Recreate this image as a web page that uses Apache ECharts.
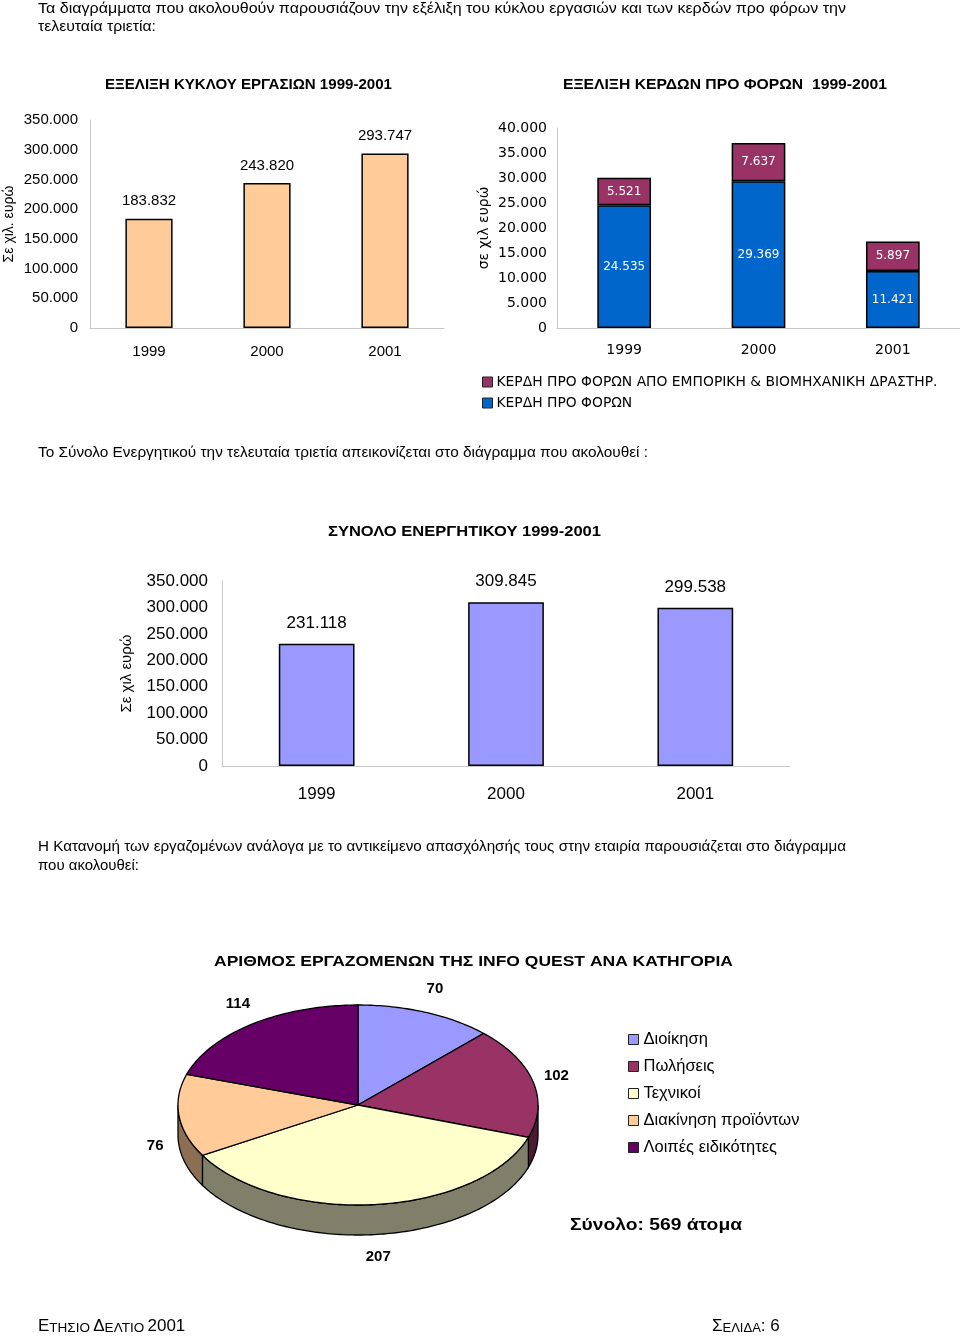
<!DOCTYPE html>
<html><head><meta charset="utf-8">
<script src="https://cdn.jsdelivr.net/npm/echarts@6.0.0/dist/echarts.min.js"></script>
<style>html,body{margin:0;padding:0;background:#fff}#c{width:960px;height:1336px}</style>
</head><body><div id="c"></div>
<script>
// ---------- data ----------
const years = ['1999', '2000', '2001'];
const turnover = [183832, 243820, 293747];
const profitBase = [24535, 29369, 11421];
const profitTrade = [5521, 7637, 5897];
const assets = [231118, 309845, 299538];
const staffNames = ['Διοίκηση', 'Πωλήσεις', 'Τεχνικοί', 'Διακίνηση προϊόντων', 'Λοιπές ειδικότητες'];
const staffValues = [70, 102, 207, 76, 114];
const profitNames = ['ΚΕΡΔΗ ΠΡΟ ΦΟΡΩΝ ΑΠΟ ΕΜΠΟΡΙΚΗ & ΒΙΟΜΗΧΑΝΙΚΗ ΔΡΑΣΤΗΡ.', 'ΚΕΡΔΗ ΠΡΟ ΦΟΡΩΝ'];

// ---------- styling ----------
const staffColors = ['#9999FF', '#993366', '#FFFFCC', '#FFCC99', '#660066'];
const staffWall = ['#5c5c99', '#4d1a33', '#80806a', '#8c6e52', '#330033'];
const SANS = '"Liberation Sans", Arial, sans-serif';
const DV = '"DejaVu Sans", Verdana, sans-serif';

const mctx = document.createElement('canvas').getContext('2d');
function tw(text, font) { mctx.font = font; return mctx.measureText(text).width; }
function fitText(text, x, y, w, size, weight, family) {
  const font = weight + ' ' + size + 'px ' + family;
  const s = w / tw(text, font);
  return { type: 'text', x: x, y: y, scaleX: s, silent: true,
    style: { text: text, font: font, fill: '#000', align: 'left', verticalAlign: 'middle' } };
}
function fmt(v) { return String(Math.round(v)).replace(/\B(?=(\d{3})+(?!\d))/g, '.'); }

// legend font size fitted for chart 2
const legFS = 14 * 441 / tw(profitNames[0], '14px ' + DV);

// ---------- pie geometry ----------
const total = staffValues.reduce((a, b) => a + b, 0);
const starts = []; (function () { let acc = 0; staffValues.forEach(v => { starts.push(acc / total * 360); acc += v; }); })();
const PIE = { cx: 358, cy: 1105, rx: 180, ry: 100, depth: 30 };
function ept(deg, dy, rx, ry) { const r = deg * Math.PI / 180; return [PIE.cx + rx * Math.sin(r), PIE.cy - ry * Math.cos(r) + dy]; }
function arc(a, b, dy) {
  const pts = []; const n = Math.max(2, Math.ceil(Math.abs(b - a)));
  for (let i = 0; i <= n; i++) pts.push(ept(a + (b - a) * i / n, dy, PIE.rx, PIE.ry));
  return pts;
}
const pieSeries = staffNames.map((name, i) => ({
  type: 'custom', name: name, coordinateSystem: 'none', silent: true,
  itemStyle: { color: staffColors[i], borderColor: '#000', borderWidth: 1 },
  data: [staffValues[i]],
  renderItem: function (params, api) {
    const v = api.value(0);
    const a = starts[i], b = a + v / total * 360;
    const children = [];
    const s = Math.max(a, 90), e = Math.min(b, 270);
    if (s < e) {
      children.push({ type: 'polygon', z2: 1, shape: { points: arc(s, e, 0).concat(arc(e, s, PIE.depth)) },
        style: { fill: staffWall[i], stroke: '#000', lineWidth: 1.3 } });
    }
    children.push({ type: 'polygon', z2: 5, shape: { points: [[PIE.cx, PIE.cy]].concat(arc(a, b, 0)) },
      style: { fill: staffColors[i], stroke: '#000', lineWidth: 1.3 } });
    const m = (a + b) / 2, rad = m * Math.PI / 180;
    const lp = ept(m, Math.cos(rad) < 0 ? PIE.depth - 3 : 0, 204, 125);
    children.push({ type: 'text', z2: 10, x: lp[0], y: lp[1],
      style: { text: String(v), font: 'bold 15px ' + SANS, fill: '#000', align: 'center', verticalAlign: 'middle' } });
    return { type: 'group', children: children };
  }
}));

const axisLineGray = { show: true, lineStyle: { color: '#c8c8c8', width: 1 } };

const option = {
  animation: false,
  backgroundColor: '#fff',
  grid: [
    { left: 90, right: 516, top: 120, bottom: 1008, containLabel: false },
    { left: 557, right: 0, top: 128, bottom: 1008, containLabel: false },
    { left: 222, right: 170, top: 581, bottom: 570, containLabel: false }
  ],
  xAxis: [
    { gridIndex: 0, type: 'category', data: years, axisLine: axisLineGray, axisTick: { show: false },
      axisLabel: { margin: 16, color: '#000', fontFamily: SANS, fontSize: 15 } },
    { gridIndex: 1, type: 'category', data: years, axisLine: axisLineGray, axisTick: { show: false },
      axisLabel: { margin: 15, color: '#000', fontFamily: DV, fontSize: 14 } },
    { gridIndex: 2, type: 'category', data: years, axisLine: axisLineGray, axisTick: { show: false },
      axisLabel: { margin: 20, color: '#000', fontFamily: SANS, fontSize: 17 } }
  ],
  yAxis: [
    { gridIndex: 0, type: 'value', min: 0, max: 350000, interval: 50000, axisLine: axisLineGray, axisTick: { show: false },
      splitLine: { show: false }, axisLabel: { margin: 12, color: '#000', fontFamily: SANS, fontSize: 15, formatter: fmt },
      name: 'Σε χιλ. ευρώ', nameLocation: 'middle', nameGap: 74, nameTextStyle: { fontFamily: SANS, fontSize: 14, color: '#000' } },
    { gridIndex: 1, type: 'value', min: 0, max: 40000, interval: 5000, axisLine: axisLineGray, axisTick: { show: false },
      splitLine: { show: false }, axisLabel: { margin: 10, color: '#000', fontFamily: DV, fontSize: 14, formatter: fmt },
      name: 'σε χιλ ευρώ', nameLocation: 'middle', nameGap: 66, nameTextStyle: { fontFamily: DV, fontSize: 14, color: '#000' } },
    { gridIndex: 2, type: 'value', min: 0, max: 350000, interval: 50000, axisLine: axisLineGray, axisTick: { show: false },
      splitLine: { show: false }, axisLabel: { margin: 14, color: '#000', fontFamily: SANS, fontSize: 17, formatter: fmt },
      name: 'Σε χιλ ευρώ', nameLocation: 'middle', nameGap: 88, nameTextStyle: { fontFamily: SANS, fontSize: 15, color: '#000' } }
  ],
  legend: [
    { data: profitNames, orient: 'vertical', left: 477, top: 370, itemWidth: 10, itemHeight: 10, itemGap: 7,
      icon: 'rect', selectedMode: false,
      itemStyle: { borderColor: '#222', borderWidth: 1 },
      textStyle: { fontFamily: DV, fontSize: legFS, color: '#000', padding: [0, 0, 0, -1] } },
    { data: staffNames, orient: 'vertical', left: 623, top: 1026, itemWidth: 10, itemHeight: 10, itemGap: 10,
      icon: 'rect', selectedMode: false,
      itemStyle: { borderColor: '#222', borderWidth: 1 },
      textStyle: { fontFamily: SANS, fontSize: 16.5, color: '#000' } }
  ],
  series: [
    { type: 'bar', name: 'turnover', xAxisIndex: 0, yAxisIndex: 0, data: turnover, barWidth: '40%',
      itemStyle: { color: '#FFCC99', borderColor: '#000', borderWidth: 1.5 },
      label: { show: true, position: 'top', distance: 10, color: '#000', fontFamily: SANS, fontSize: 15, formatter: p => fmt(p.value) } },
    { type: 'bar', name: profitNames[1], xAxisIndex: 1, yAxisIndex: 1, stack: 'p', data: profitBase, barWidth: '40%',
      itemStyle: { color: '#0066CC', borderColor: '#000', borderWidth: 1.5 },
      label: { show: true, position: 'inside', color: '#fff', fontFamily: DV, fontSize: 12, formatter: p => fmt(p.value) } },
    { type: 'bar', name: profitNames[0], xAxisIndex: 1, yAxisIndex: 1, stack: 'p', data: profitTrade, barWidth: '40%',
      itemStyle: { color: '#993366', borderColor: '#000', borderWidth: 1.5 },
      label: { show: true, position: 'inside', color: '#fff', fontFamily: DV, fontSize: 12, formatter: p => fmt(p.value) } },
    { type: 'bar', name: 'assets', xAxisIndex: 2, yAxisIndex: 2, data: assets, barWidth: '40%',
      itemStyle: { color: '#9999FF', borderColor: '#000', borderWidth: 1.5 },
      label: { show: true, position: 'top', distance: 12, color: '#000', fontFamily: SANS, fontSize: 17, formatter: p => fmt(p.value) } }
  ].concat(pieSeries),
  graphic: [
    fitText('Τα διαγράμματα που ακολουθούν παρουσιάζουν την εξέλιξη του κύκλου εργασιών και των κερδών προ φόρων την', 38, 9, 808, 15, 'normal', SANS),
    fitText('τελευταία τριετία:', 38, 27, 118, 15, 'normal', SANS),
    fitText('ΕΞΕΛΙΞΗ ΚΥΚΛΟΥ ΕΡΓΑΣΙΩΝ 1999-2001', 105, 85, 287, 15, 'bold', SANS),
    fitText('ΕΞΕΛΙΞΗ ΚΕΡΔΩΝ ΠΡΟ ΦΟΡΩΝ  1999-2001', 563, 85, 324, 15, 'bold', SANS),
    fitText('Το Σύνολο Ενεργητικού την τελευταία τριετία απεικονίζεται στο διάγραμμα που ακολουθεί :', 38, 453, 610, 15, 'normal', SANS),
    fitText('ΣΥΝΟΛΟ ΕΝΕΡΓΗΤΙΚΟΥ 1999-2001', 328, 532, 273, 15, 'bold', SANS),
    fitText('Η Κατανομή των εργαζομένων ανάλογα με το αντικείμενο απασχόλησής τους στην εταιρία παρουσιάζεται στο διάγραμμα', 38, 847, 808, 15, 'normal', SANS),
    fitText('που ακολουθεί:', 38, 866, 101, 15, 'normal', SANS),
    fitText('ΑΡΙΘΜΟΣ ΕΡΓΑΖΟΜΕΝΩΝ ΤΗΣ INFO QUEST ΑΝΑ ΚΑΤΗΓΟΡΙΑ', 214, 962, 519, 15, 'bold', SANS),
    fitText('Σύνολο: 569 άτομα', 570, 1225, 172, 17, 'bold', SANS),
    { type: 'text', x: 38, y: 1335, silent: true,
      style: { text: '{b|Ε}{s|ΤΗΣΙΟ} {b|Δ}{s|ΕΛΤΙΟ} {b|2001}', fill: '#000', align: 'left', verticalAlign: 'bottom',
        rich: { b: { fontFamily: SANS, fontSize: 17, verticalAlign: 'bottom' }, s: { fontFamily: SANS, fontSize: 13.5, verticalAlign: 'bottom' } } } },
    { type: 'text', x: 712, y: 1335, silent: true,
      style: { text: '{b|Σ}{s|ΕΛΙΔΑ}{b|: 6}', fill: '#000', align: 'left', verticalAlign: 'bottom',
        rich: { b: { fontFamily: SANS, fontSize: 17, verticalAlign: 'bottom' }, s: { fontFamily: SANS, fontSize: 13, verticalAlign: 'bottom' } } } }
  ]
};
const chart = echarts.init(document.getElementById('c'), null, { renderer: 'canvas', width: 960, height: 1336 });
chart.setOption(option);
</script>
</body></html>
